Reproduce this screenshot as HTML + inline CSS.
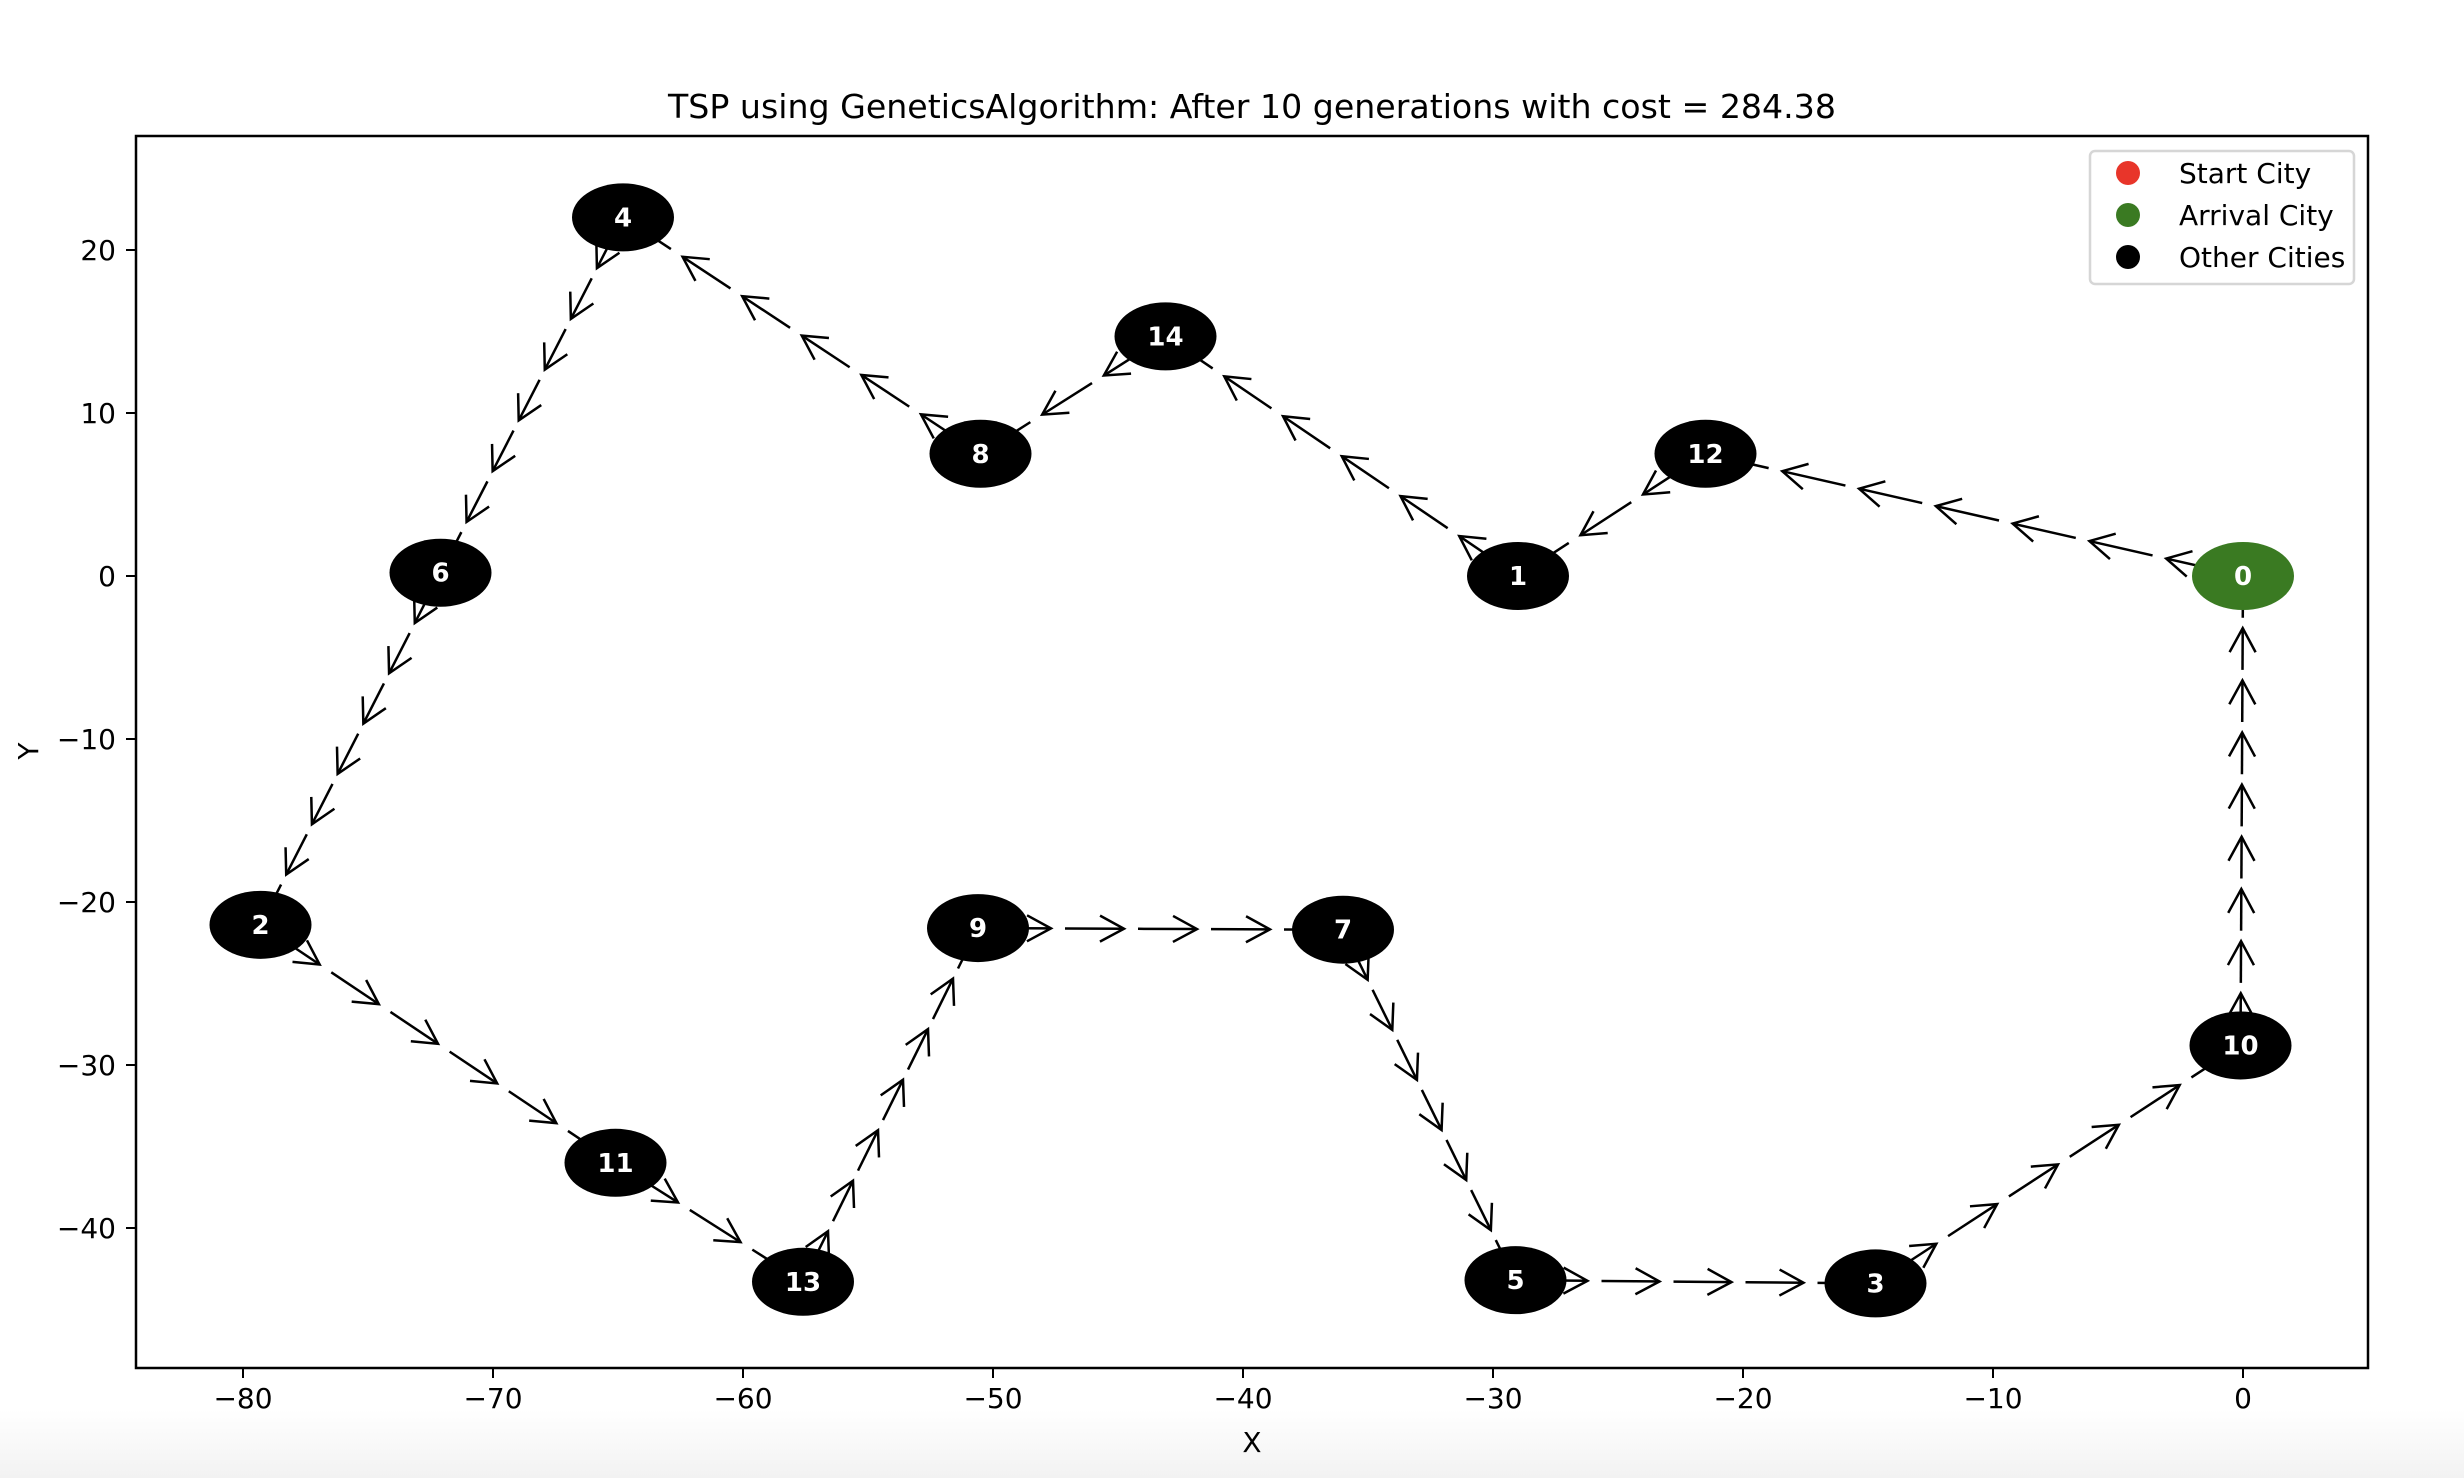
<!DOCTYPE html>
<html><head><meta charset="utf-8">
<style>
html,body{margin:0;padding:0;background:#fff;}
svg{display:block;font-family:"DejaVu Sans","Liberation Sans",sans-serif;}
</style></head>
<body>
<svg id="chart" width="2464" height="1478" viewBox="0 0 2464 1478">
<defs>
<linearGradient id="fade" x1="0" y1="0" x2="0" y2="1">
<stop offset="0" stop-color="#fff"/><stop offset="1" stop-color="#f2f2f2"/>
</linearGradient>
</defs>
<rect x="0" y="1410" width="2464" height="68" fill="url(#fade)"/>
<text x="1252" y="118" font-size="33.2" text-anchor="middle">TSP using GeneticsAlgorithm: After 10 generations with cost = 284.38</text>
<rect x="136" y="136" width="2232" height="1232" fill="none" stroke="#000" stroke-width="2.5"/>
<g id="xticks"></g>
<g id="yticks"></g>
<text x="1252" y="1452" font-size="28" text-anchor="middle">X</text>
<text x="38" y="751" font-size="28" text-anchor="middle" transform="rotate(-90 38 751)">Y</text>
<g id="edges"></g>
<g id="nodes"></g>
<g>
<rect x="2090" y="151" width="264" height="133" rx="5" fill="#fff" stroke="#d6d6d6" stroke-width="2.5"/>
<circle cx="2128" cy="173" r="12" fill="#e8352a"/>
<text x="2179" y="183" font-size="28">Start City</text>
<circle cx="2128" cy="215" r="12" fill="#3a7a22"/>
<text x="2179" y="225" font-size="28">Arrival City</text>
<circle cx="2128" cy="257" r="12" fill="#000"/>
<text x="2179" y="267" font-size="28">Other Cities</text>
</g>
</svg>
<script>
const cityX = [0, -29, -79.3, -14.7, -64.8, -29.1, -72.1, -36.0, -50.5, -50.6, -0.1, -65.1, -21.5, -57.6, -43.1];
const cityY = [0, 0, -21.4, -43.4, 22.0, -43.2, 0.2, -21.7, 7.5, -21.6, -28.8, -36.0, 7.5, -43.3, 14.7];
const tour = [0, 12, 1, 14, 8, 4, 6, 2, 11, 13, 9, 7, 5, 3, 10, 0];
const xTicks = [-80, -70, -60, -50, -40, -30, -20, -10, 0];
const yTicks = [20, 10, 0, -10, -20, -30, -40];

const NS = 'http://www.w3.org/2000/svg';
function sx(v){ return 2243 + 25 * v; }
function sy(v){ return 576 - 16.3 * v; }
function mk(tag, attrs, parent){
  const e = document.createElementNS(NS, tag);
  for (const k in attrs) e.setAttribute(k, attrs[k]);
  parent.appendChild(e);
  return e;
}
const gx = document.getElementById('xticks');
xTicks.forEach(t => {
  const x = sx(t);
  const l = mk('line', {x1:x, y1:1368, x2:x, y2:1378, stroke:'#000', 'stroke-width':2}, gx);
  
  
  const tx = mk('text', {x:x, y:1408, 'font-size':28, 'text-anchor':'middle'}, gx);
  tx.textContent = t < 0 ? '\u2212' + (-t) : String(t);
  
  
});
const gy = document.getElementById('yticks');
yTicks.forEach(t => {
  const y = sy(t);
  const l = mk('line', {x1:126, y1:y, x2:136, y2:y, stroke:'#000', 'stroke-width':2}, gy);
  
  
  const tx = mk('text', {x:116, y:y + 10, 'font-size':28, 'text-anchor':'end'}, gy);
  tx.textContent = t < 0 ? '\u2212' + (-t) : String(t);
  
  
});
const ge = document.getElementById('edges');
for (let i = 0; i < tour.length - 1; i++) {
  const a = tour[i], b = tour[i+1];
  const x1 = sx(cityX[a]), y1 = sy(cityY[a]), x2 = sx(cityX[b]), y2 = sy(cityY[b]);
  const dx = x2 - x1, dy = y2 - y1, L = Math.hypot(dx, dy);
  const dataLen = Math.hypot(cityX[b] - cityX[a], cityY[b] - cityY[a]);
  const ux = dx / L, uy = dy / L;
  const k = Math.max(1, Math.round(dataLen / 3.2));
  const seg = L / k;
  const g = mk('g', {}, ge);
  
  
  for (let j = 0; j < k; j++) {
    const s = j * seg + Math.min(14, seg * 0.2), e = (j + 1) * seg;
    const px1 = x1 + ux * s, py1 = y1 + uy * s, px2 = x1 + ux * e, py2 = y1 + uy * e;
    mk('line', {x1:px1, y1:py1, x2:px2, y2:py2, stroke:'#000', 'stroke-width':2.5}, g);
    const hl = 24, hw = 13;
    const bx = px2 - ux * hl, by = py2 - uy * hl;
    mk('polyline', {points:(bx - uy*hw) + ',' + (by + ux*hw) + ' ' + px2 + ',' + py2 + ' ' + (bx + uy*hw) + ',' + (by - ux*hw),
      fill:'none', stroke:'#000', 'stroke-width':2.5}, g);
  }
}
const gn = document.getElementById('nodes');
cityX.forEach((cx, i) => {
  const x = sx(cx), y = sy(cityY[i]);
  const g = mk('g', {}, gn);
  
  
  mk('ellipse', {cx:x, cy:y, rx:51, ry:34, fill: i === 0 ? '#3a7a22' : '#000'}, g);
  const t = mk('text', {x:x, y:y + 9, 'font-size':26, 'font-weight':'bold', fill:'#fff', 'text-anchor':'middle'}, g);
  t.textContent = String(i);
});
</script>
</body></html>
